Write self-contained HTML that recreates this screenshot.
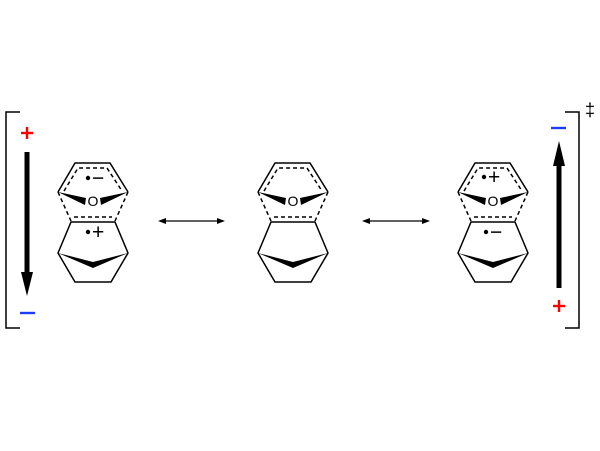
<!DOCTYPE html>
<html><head><style>html,body{margin:0;padding:0;background:#fff;}svg{display:block;}</style></head>
<body>
<svg width="600" height="451" viewBox="0 0 600 451" xmlns="http://www.w3.org/2000/svg" font-family="Liberation Sans, sans-serif">
<defs>
<g id="mol">
  <polyline points="-35,192 -18,163 17,163 35,192" fill="none" stroke="#000" stroke-width="1.5"/>
  <polyline points="-29,191 -15,168 14,168 29,191" fill="none" stroke="#000" stroke-width="1.5" stroke-dasharray="4,3"/>
  <line x1="-35" y1="192" x2="-22" y2="221" stroke="#000" stroke-width="1.5" stroke-dasharray="4,3"/>
  <line x1="35" y1="192" x2="22" y2="221" stroke="#000" stroke-width="1.5" stroke-dasharray="4,3"/>
  <line x1="-19" y1="217" x2="19" y2="217" stroke="#000" stroke-width="1.5" stroke-dasharray="4,3"/>
  <polygon points="-35,192 -7,198 -8,205" fill="#000"/>
  <polygon points="35,192 7,198 8,205" fill="#000"/>
  <polygon points="-22,222 22,222 35,253 18,282 -18,282 -35,253" fill="none" stroke="#000" stroke-width="1.5"/>
  <polygon points="-35,253 0,262 35,253 0,268" fill="#000"/>
</g>
</defs>
<g stroke-linejoin="round">
<use href="#mol" x="93" y="0"/>
<use href="#mol" x="293" y="0"/>
<use href="#mol" x="493" y="0"/>
</g>
<g font-size="14" text-anchor="middle">
<text x="93" y="206">O</text>
<text x="293" y="206">O</text>
<text x="493" y="206">O</text>
</g>
<g font-size="21">
<circle cx="88" cy="178" r="2.2"/><text x="92" y="185">−</text>
<circle cx="88" cy="232" r="2.2"/><text x="92" y="239">+</text>
<circle cx="484" cy="177" r="2.2"/><text x="488" y="184">+</text>
<circle cx="486" cy="232" r="2.2"/><text x="490" y="239">−</text>
</g>
<g stroke="#000" stroke-width="1.2">
<line x1="163" y1="221" x2="220" y2="221"/>
<line x1="367" y1="221" x2="425" y2="221"/>
</g>
<g fill="#000">
<polygon points="158,221 166,218 166,224"/><polygon points="225,221 217,218 217,224"/>
<polygon points="362,221 370,218 370,224"/><polygon points="430,221 422,218 422,224"/>
</g>
<polyline points="20,112 6,112 6,328 20,328" fill="none" stroke="#000" stroke-width="1.5"/>
<polyline points="565,112 579,112 579,328 565,328" fill="none" stroke="#000" stroke-width="1.5"/>
<text x="590" y="116" font-size="18" text-anchor="middle">‡</text>
<rect x="24.5" y="152" width="5" height="125" fill="#000"/>
<polygon points="21,272 33,272 27,296" fill="#000"/>
<rect x="556.5" y="162" width="5" height="126" fill="#000"/>
<polygon points="553,166 565,166 559,141" fill="#000"/>
<g stroke-width="2.4">
<line x1="21" y1="133" x2="33" y2="133" stroke="#f00"/><line x1="27" y1="127" x2="27" y2="139" stroke="#f00"/>
<line x1="20" y1="313" x2="35" y2="313" stroke="#1e3cff"/>
<line x1="551" y1="128" x2="566" y2="128" stroke="#1e3cff"/>
<line x1="553" y1="306" x2="565" y2="306" stroke="#f00"/><line x1="559" y1="300" x2="559" y2="312" stroke="#f00"/>
</g>
</svg>
</body></html>
